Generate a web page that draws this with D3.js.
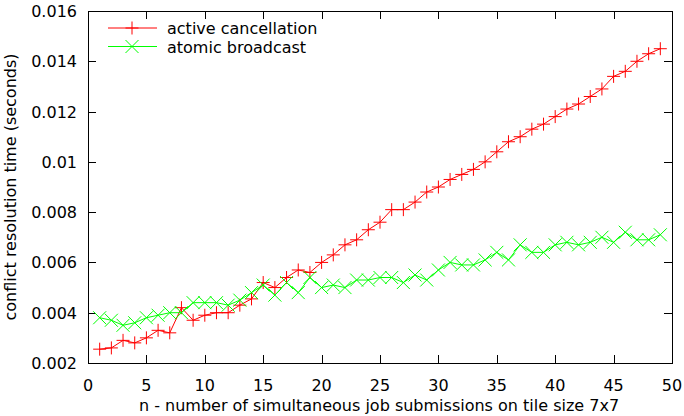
<!DOCTYPE html>
<html>
<head>
<meta charset="utf-8">
<script src="https://cdn.jsdelivr.net/npm/d3@7"></script>
<style>
  body { margin: 0; background: #fff; }
  svg { display: block; font-family: "DejaVu Sans", sans-serif; }
</style>
</head>
<body>
<svg id="chart" width="684" height="416"></svg>
<script>
// job counts on the x axis
const jobs = d3.range(1, 50);

// conflict resolution time in seconds
const activeCancellation = [
  0.00255, 0.0026, 0.0029, 0.0028, 0.0030, 0.0033, 0.0032, 0.0042, 0.0037, 0.0039,
  0.0040, 0.0040, 0.0043, 0.00455, 0.0052, 0.0050, 0.0054, 0.0057, 0.0056, 0.0060,
  0.0063, 0.0067, 0.0069, 0.0073, 0.0076, 0.0081, 0.0081, 0.0084, 0.0088, 0.0090,
  0.0093, 0.0095, 0.0097, 0.0100, 0.0104, 0.0108, 0.0110, 0.0113, 0.0115, 0.0118,
  0.0121, 0.0123, 0.0126, 0.0129, 0.0134, 0.0136, 0.0140, 0.0143, 0.0145
];
const atomicBroadcast = [
  0.0038, 0.0037, 0.0035, 0.0036, 0.0038, 0.0039, 0.0040, 0.0040, 0.0044, 0.0044,
  0.0044, 0.0043, 0.0045, 0.0048, 0.0051, 0.0047, 0.0052, 0.0048, 0.0054, 0.0050,
  0.0051, 0.0050, 0.0053, 0.0053, 0.0054, 0.0054, 0.0052, 0.0055, 0.0053, 0.0057,
  0.0060, 0.0059, 0.0059, 0.0061, 0.0064, 0.0061, 0.0067, 0.0064, 0.0064, 0.0067,
  0.0068, 0.0067, 0.0068, 0.0070, 0.0068, 0.0072, 0.0069, 0.0069, 0.0071
];

const xTicks = d3.range(0, 51, 5);
const yTicks = [0.002, 0.004, 0.006, 0.008, 0.01, 0.012, 0.014, 0.016];

const series = [
  { name: "active cancellation", values: activeCancellation, color: "#ff0000", marker: "plus" },
  { name: "atomic broadcast", values: atomicBroadcast, color: "#00ff00", marker: "cross" }
];

const svg = d3.select("#chart");
const plotLeft = 88, plotRight = 672, plotTop = 11, plotBottom = 363;
const fontSize = 16;

const x = d3.scaleLinear().domain([0, 50]).range([plotLeft, plotRight]);
const y = d3.scaleLinear().domain([0.002, 0.016]).range([plotBottom, plotTop]);

// inward ticks on all four sides, like gnuplot
const tickLen = 8;
const axes = svg.append("g").attr("stroke", "#000").attr("stroke-width", 1);
xTicks.forEach(t => {
  const px = Math.round(x(t)) + 0.5;
  axes.append("line").attr("x1", px).attr("x2", px).attr("y1", plotBottom).attr("y2", plotBottom - tickLen);
  axes.append("line").attr("x1", px).attr("x2", px).attr("y1", plotTop).attr("y2", plotTop + tickLen);
});
yTicks.forEach(t => {
  const py = Math.round(y(t)) + 0.5;
  axes.append("line").attr("x1", plotLeft).attr("x2", plotLeft + tickLen).attr("y1", py).attr("y2", py);
  axes.append("line").attr("x1", plotRight).attr("x2", plotRight - tickLen).attr("y1", py).attr("y2", py);
});
axes.append("rect")
  .attr("x", plotLeft + 0.5).attr("y", plotTop + 0.5)
  .attr("width", plotRight - plotLeft).attr("height", plotBottom - plotTop)
  .attr("fill", "none");

// tick labels
svg.append("g").selectAll("text").data(xTicks).join("text")
  .attr("x", d => x(d)).attr("y", 391)
  .attr("text-anchor", "middle").attr("font-size", fontSize).attr("fill", "#000")
  .text(d => d);
svg.append("g").selectAll("text").data(yTicks).join("text")
  .attr("x", 77).attr("y", d => y(d) + 6)
  .attr("text-anchor", "end").attr("font-size", fontSize).attr("fill", "#000")
  .text(d => String(d));

// axis titles
svg.append("text")
  .attr("x", 379).attr("y", 411)
  .attr("text-anchor", "middle").attr("font-size", fontSize)
  .text("n - number of simultaneous job submissions on tile size 7x7");
svg.append("text")
  .attr("transform", `translate(16,${(plotTop + plotBottom) / 2}) rotate(-90)`)
  .attr("text-anchor", "middle").attr("font-size", fontSize)
  .text("conflict resolution time (seconds)");

const line = d3.line().x((d, i) => x(jobs[i])).y(d => y(d));
const ms = 6.5;

function drawMarker(g, cx, cy, kind, color) {
  const path = kind === "plus"
    ? `M${cx - ms},${cy}L${cx + ms},${cy}M${cx},${cy - ms}L${cx},${cy + ms}`
    : `M${cx - ms},${cy - ms}L${cx + ms},${cy + ms}M${cx - ms},${cy + ms}L${cx + ms},${cy - ms}`;
  g.append("path").attr("d", path).attr("stroke", color).attr("stroke-width", 1).attr("fill", "none");
}

series.forEach(s => {
  const g = svg.append("g");
  g.append("path").datum(s.values)
    .attr("d", line).attr("fill", "none")
    .attr("stroke", s.color).attr("stroke-width", 1);
  s.values.forEach((v, i) => drawMarker(g, x(jobs[i]), y(v), s.marker, s.color));
});

// legend
series.forEach((s, i) => {
  const ly = 28 + i * 18.5;
  const g = svg.append("g");
  g.append("line").attr("x1", 108).attr("x2", 157).attr("y1", ly).attr("y2", ly)
    .attr("stroke", s.color).attr("stroke-width", 1);
  drawMarker(g, 132, ly, s.marker, s.color);
  g.append("text").attr("x", 167).attr("y", ly + 6).attr("font-size", fontSize).text(s.name);
});
</script>
</body>
</html>
